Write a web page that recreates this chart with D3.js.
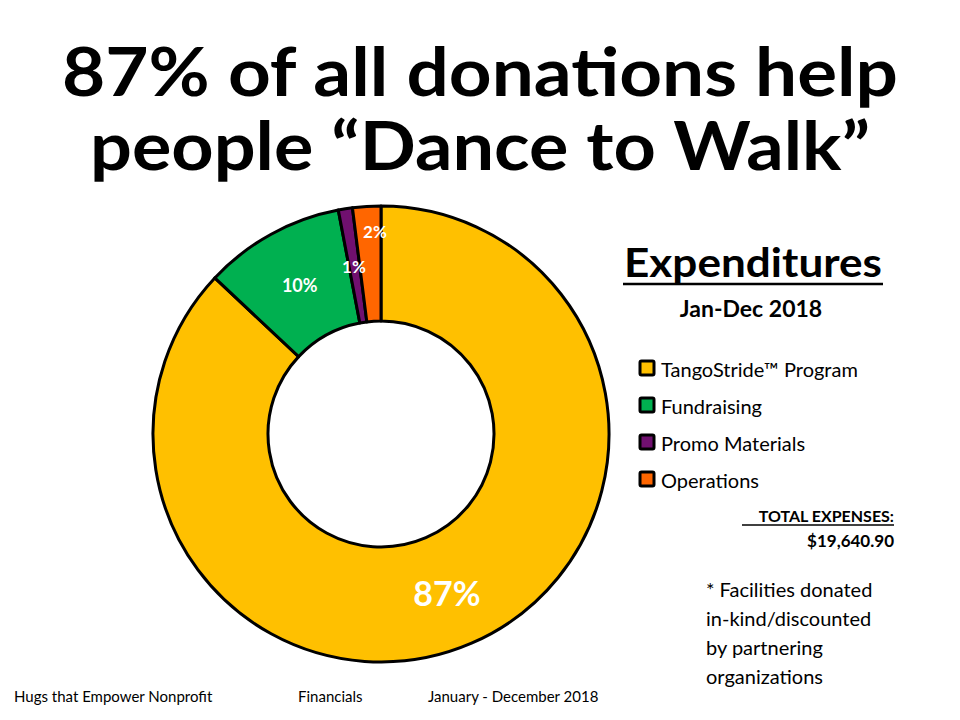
<!DOCTYPE html>
<html><head><meta charset="utf-8">
<script src="https://cdn.jsdelivr.net/npm/d3@7"></script>
<style>body{margin:0;background:#fff}text{font-family:Lato,"Open Sans",sans-serif}</style>
</head><body><svg id="c" width="960" height="720"></svg>
<script>
var categories = ['TangoStride\u2122 Program', 'Fundraising', 'Promo Materials', 'Operations']
var shares = [87, 10, 1, 2]
var labels = ['87%', '10%', '1%', '2%']
var colors = ['#FFC000', '#00B050', '#70106F', '#FF6600']

var svg = d3.select('#c')

// title
var title = svg.append('g').style('font-weight', 'bold').style('font-size', '66px')
title.append('text').text('87% of all donations help')
  .attr('x', 480).attr('y', 96).attr('text-anchor', 'middle')
  .attr('textLength', 836).attr('lengthAdjust', 'spacingAndGlyphs')
title.append('text').text('people \u201cDance to Walk\u201d')
  .attr('x', 480).attr('y', 170).attr('text-anchor', 'middle')
  .attr('textLength', 780).attr('lengthAdjust', 'spacingAndGlyphs')

// donut
var cx = 381, cy = 434, R = 228, r = 113
var pie = d3.pie().sort(null).value(d => d)
var arc = d3.arc().innerRadius(r).outerRadius(R)
var g = svg.append('g').attr('transform', `translate(${cx},${cy})`)
var arcs = pie(shares)
g.selectAll('path').data(arcs).join('path')
  .attr('d', arc).attr('fill', (d, i) => colors[i])
  .attr('stroke', '#000').attr('stroke-width', 3).attr('stroke-linejoin', 'round')

var labelPos = [[R * 0.72, 34], [R * 0.74, 18], [R * 0.74, 17], [R * 0.86, 17]]
g.selectAll('text.lbl').data(arcs).join('text').attr('class', 'lbl')
  .text((d, i) => labels[i])
  .attr('transform', (d, i) => {
    var a = (d.startAngle + d.endAngle) / 2
    var rr = labelPos[i][0]
    if (i == 0) return `translate(${66},${160})`
    if (i == 3) return `translate(${-6},${-202})`
    if (i == 2) return `translate(${-27},${-167})`
    return `translate(${Math.sin(a) * rr},${-Math.cos(a) * rr})`
  })
  .attr('text-anchor', 'middle').attr('dy', '0.35em')
  .attr('fill', '#fff').style('font-weight', 'bold')
  .style('font-size', (d, i) => labelPos[i][1] + 'px')

// legend side
svg.append('text').text('Expenditures').attr('x', 753).attr('y', 277)
  .attr('text-anchor', 'middle').style('font-weight', 'bold').style('font-size', '40px')
  .attr('textLength', 258).attr('lengthAdjust', 'spacingAndGlyphs')
svg.append('line').attr('x1', 623).attr('x2', 883).attr('y1', 284).attr('y2', 284)
  .attr('stroke', '#000').attr('stroke-width', 2.5)
svg.append('text').text('Jan-Dec 2018').attr('x', 751).attr('y', 317)
  .attr('text-anchor', 'middle').style('font-weight', 'bold').style('font-size', '23px')

var lg = svg.append('g').selectAll('g').data(categories).join('g')
  .attr('transform', (d, i) => `translate(640,${370 + i * 37})`)
lg.append('rect').attr('x', 0).attr('y', -9).attr('width', 14).attr('height', 14)
  .attr('fill', (d, i) => colors[i]).attr('stroke', '#000').attr('stroke-width', 3).attr('rx', 1.5)
lg.append('text').text(d => d).attr('x', 21).attr('y', 7).style('font-size', '20px')

svg.append('text').text('TOTAL EXPENSES:').attr('x', 894).attr('y', 522)
  .attr('text-anchor', 'end').style('font-weight', 'bold').style('font-size', '16px')
svg.append('line').attr('x1', 742).attr('x2', 894).attr('y1', 525).attr('y2', 525)
  .attr('stroke', '#000').attr('stroke-width', 1.3)
svg.append('text').text('$19,640.90').attr('x', 894).attr('y', 547)
  .attr('text-anchor', 'end').style('font-weight', 'bold').style('font-size', '17px')

var note = ['* Facilities donated', 'in-kind/discounted', 'by partnering', 'organizations']
svg.append('g').selectAll('text').data(note).join('text').text(d => d)
  .attr('x', 706).attr('y', (d, i) => 597 + i * 29).style('font-size', '20px')

// footer
var foot = [['Hugs that Empower Nonprofit', 14], ['Financials', 298], ['January - December 2018', 428]]
svg.append('g').selectAll('text').data(foot).join('text').text(d => d[0])
  .attr('x', d => d[1]).attr('y', 702).style('font-size', '15px')
</script></body></html>
